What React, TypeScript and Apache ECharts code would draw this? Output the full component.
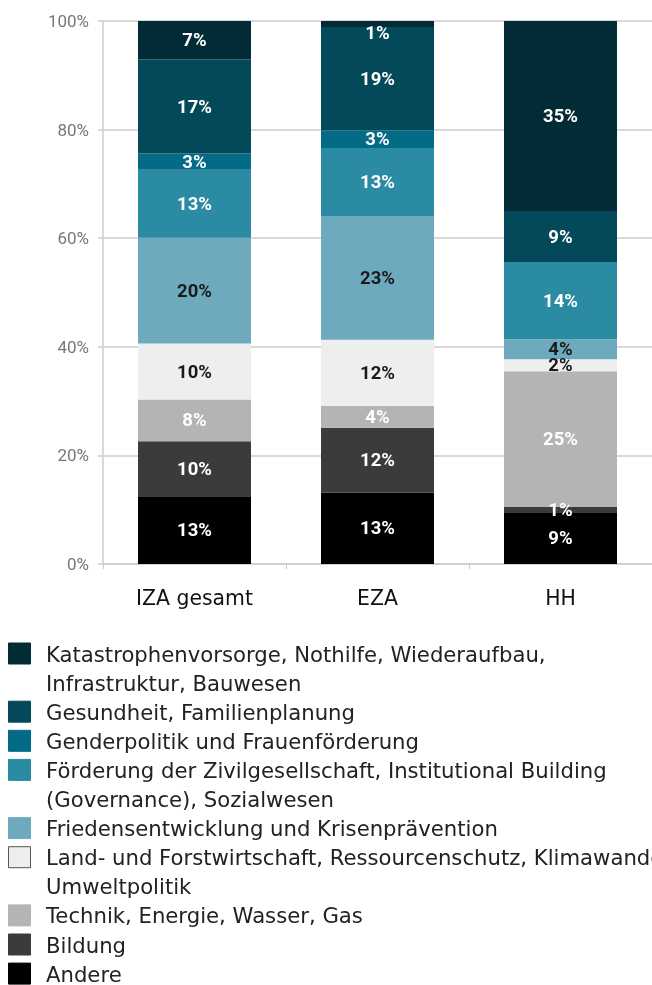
import React, { useEffect, useRef } from "react";
import * as echarts from "echarts";

const categories = ["IZA gesamt", "EZA", "HH"];

const seriesNames = [
  "Andere",
  "Bildung",
  "Technik, Energie, Wasser, Gas",
  "Land- und Forstwirtschaft, Ressourcenschutz, Klimawandel, Umweltpolitik",
  "Friedensentwicklung und Krisenprävention",
  "Förderung der Zivilgesellschaft, Institutional Building (Governance), Sozialwesen",
  "Genderpolitik und Frauenförderung",
  "Gesundheit, Familienplanung",
  "Katastrophenvorsorge, Nothilfe, Wiederaufbau, Infrastruktur, Bauwesen",
];

const andere = [12.5, 13.1, 9.4];
const bildung = [10.1, 12, 1.1];
const technik = [7.7, 4, 25];
const land = [10.3, 12.2, 2.2];
const frieden = [19.5, 22.8, 3.7];
const foerderung = [12.5, 12.5, 14.2];
const gender = [3, 3.3, 0];
const gesundheit = [17.3, 19, 9.4];
const katastrophen = [7.1, 1.1, 35];

const seriesValues = [andere, bildung, technik, land, frieden, foerderung, gender, gesundheit, katastrophen];

const colors = ["#000000", "#3b3b3b", "#b4b4b4", "#eeeeee", "#6eaabe", "#2a8ba3", "#046b87", "#03495a", "#022b35"];
const labelColors = ["#ffffff", "#ffffff", "#ffffff", "#1a1a1a", "#1a1a1a", "#ffffff", "#ffffff", "#ffffff", "#ffffff"];

const yTicks = [0, 20, 40, 60, 80, 100];

// legend lines, top to bottom (index into seriesNames, wrapped text lines)
const legendEntries: { idx: number; lines: string[] }[] = [
  { idx: 8, lines: ["Katastrophenvorsorge, Nothilfe, Wiederaufbau,", "Infrastruktur, Bauwesen"] },
  { idx: 7, lines: ["Gesundheit, Familienplanung"] },
  { idx: 6, lines: ["Genderpolitik und Frauenförderung"] },
  { idx: 5, lines: ["Förderung der Zivilgesellschaft, Institutional Building", "(Governance), Sozialwesen"] },
  { idx: 4, lines: ["Friedensentwicklung und Krisenprävention"] },
  { idx: 3, lines: ["Land- und Forstwirtschaft, Ressourcenschutz, Klimawandel,", "Umweltpolitik"] },
  { idx: 2, lines: ["Technik, Energie, Wasser, Gas"] },
  { idx: 1, lines: ["Bildung"] },
  { idx: 0, lines: ["Andere"] },
];

export default function App() {
  const ref = useRef<HTMLDivElement>(null);
  useEffect(() => {
    if (!ref.current) return;
    const chart = echarts.init(ref.current, undefined, { renderer: "svg" });

    const graphics: any[] = [];
    const firstLineY = 654;
    const lineStep = 29.1;
    let line = 0;
    legendEntries.forEach((e) => {
      const cy = firstLineY + line * lineStep;
      graphics.push({
        type: "rect",
        shape: { x: 8.5, y: cy - 11, width: 22, height: 21 },
        style: {
          fill: colors[e.idx],
          stroke: e.idx === 3 ? "#555555" : colors[e.idx],
          lineWidth: 1,
        },
      });
      e.lines.forEach((t, k) => {
        graphics.push({
          type: "text",
          x: 46,
          y: firstLineY + (line + k) * lineStep,
          style: {
            text: t,
            fill: "#222222",
            font: "21.2px 'DejaVu Sans'",
            lineHeight: 16,
            verticalAlign: "middle",
            align: "left",
          },
        });
      });
      line += e.lines.length;
    });

    chart.setOption({
      animation: false,
      grid: { left: 103, right: -6, top: 21, bottom: 421, containLabel: false },
      xAxis: {
        type: "category",
        data: categories,
        axisLine: { lineStyle: { color: "#cccccc", width: 1.5 } },
        axisTick: { show: true, length: 5, lineStyle: { color: "#cccccc" } },
        axisLabel: { color: "#111111", fontSize: 20.4, fontFamily: "DejaVu Sans", margin: 24 },
      },
      yAxis: {
        type: "value",
        min: 0,
        max: 100,
        interval: 20,
        axisLine: { show: true, lineStyle: { color: "#cccccc", width: 1.5 } },
        axisTick: { show: true, length: 5, lineStyle: { color: "#cccccc", width: 1.5 } },
        splitLine: { show: true, lineStyle: { color: "#d9d9d9", width: 2 } },
        axisLabel: {
          color: "#777777",
          fontSize: 17,
          fontFamily: "Roboto",
          margin: 14,
          formatter: (v: number) => (yTicks.includes(v) ? v + "%" : ""),
        },
      },
      series: seriesValues.map((vals, i) => ({
        name: seriesNames[i],
        type: "bar",
        stack: "total",
        barWidth: 113,
        data: vals.map((v, j) =>
          i === 8 && j === 1 ? { value: v, label: { offset: [0, 9] } } : v
        ),
        itemStyle: { color: colors[i] },
        label: {
          show: true,
          position: "inside",
          color: labelColors[i],
          fontFamily: "Roboto",
          fontWeight: "bold",
          fontSize: 18.5,
          lineHeight: 16,
          formatter: (p: any) => (p.value > 0 ? Math.round(p.value) + "%" : ""),
        },
      })),
      graphic: graphics,
    });
    return () => chart.dispose();
  }, []);
  return <div ref={ref} style={{ position: "fixed", left: 0, top: 0, width: 652, height: 985 }} />;
}
